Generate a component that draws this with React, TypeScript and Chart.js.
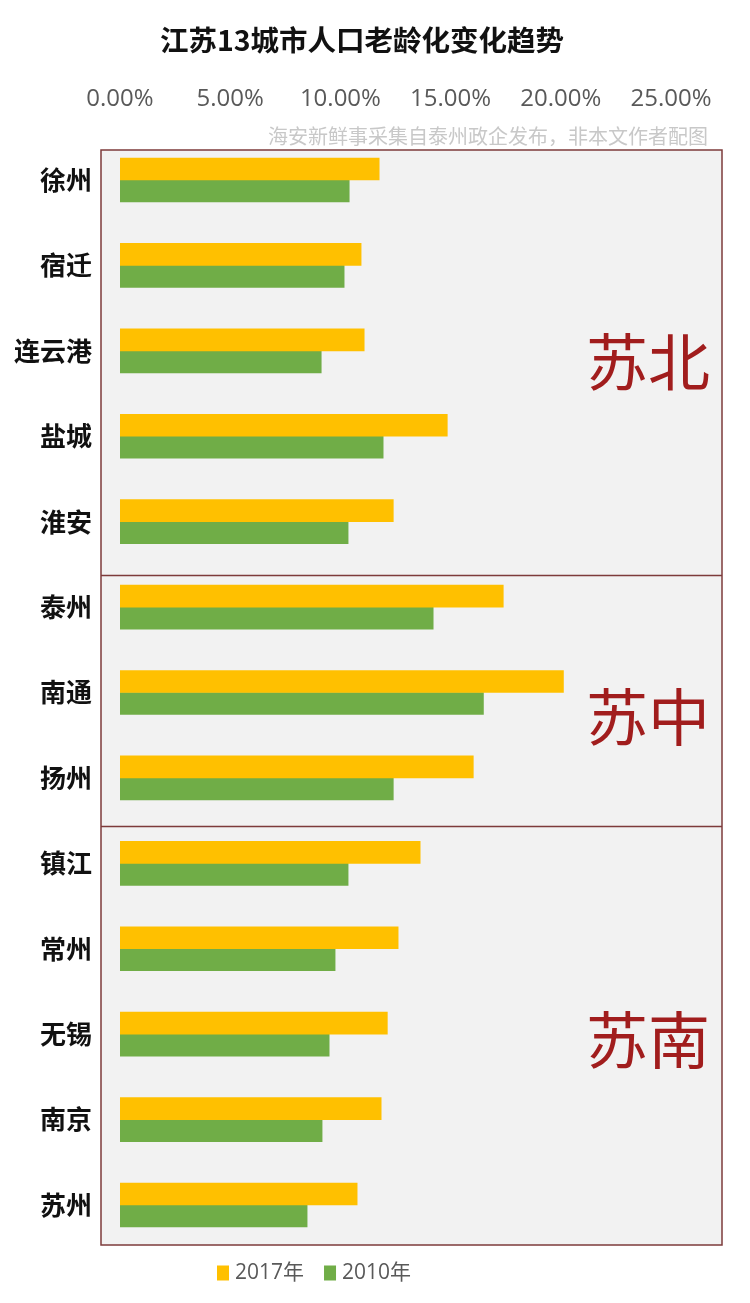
import React, { useEffect, useRef } from "react";
import { Chart, registerables } from "chart.js";

Chart.register(...registerables);

// ---------- data ----------
const titleText = "江苏13城市人口老龄化变化趋势";
const sourceNote = "海安新鲜事采集自泰州政企发布，非本文作者配图";
const cities = ["徐州", "宿迁", "连云港", "盐城", "淮安", "泰州", "南通", "扬州", "镇江", "常州", "无锡", "南京", "苏州"];
const values2017 = [11.76, 10.94, 11.08, 14.85, 12.4, 17.39, 20.12, 16.03, 13.62, 12.62, 12.13, 11.85, 10.76];
const values2010 = [10.4, 10.17, 9.13, 11.94, 10.35, 14.21, 16.49, 12.4, 10.35, 9.76, 9.49, 9.17, 8.49];
const seriesLabels = ["2017年", "2010年"];
const xTickValues = [0, 5, 10, 15, 20, 25];
const regionNames = ["苏北", "苏中", "苏南"];
const regionLastIndex = [4, 7, 12];

// ---------- styling ----------
const COLOR_2017 = "#FFC000";
const COLOR_2010 = "#70AD47";
const BOX_BORDER = "#7d3b3b";
const BOX_FILL = "#f2f2f2";
const REGION_COLOR = "#a11d1d";
const CJK = '"Noto Sans CJK SC", "Noto Sans", sans-serif';
const LATIN = '"Open Sans", "Noto Sans CJK SC", sans-serif';
// divider position inside the gap after each region (fraction of category step)
const dividerFraction = [0.63, 0.57];
const regionLabelShift = [0, 16, 5];

const decorPlugin = {
  id: "decor",
  beforeDatasetsDraw(chart: any) {
    const { ctx, chartArea } = chart;
    const b = boxOf(chartArea);
    ctx.save();
    ctx.fillStyle = BOX_FILL;
    ctx.fillRect(b.left, b.top, b.right - b.left, b.bottom - b.top);
    ctx.restore();
  },
  afterDraw(chart: any) {
    const { ctx, chartArea } = chart;
    const y = chart.scales.y;
    const b = boxOf(chartArea);
    const step = y.getPixelForValue(1) - y.getPixelForValue(0);
    ctx.save();

    // dividers
    const dividers: number[] = [];
    for (let i = 0; i < regionLastIndex.length - 1; i++) {
      dividers.push(y.getPixelForValue(regionLastIndex[i]) + dividerFraction[i] * step);
    }
    ctx.strokeStyle = BOX_BORDER;
    ctx.lineWidth = 1.5;
    dividers.forEach((dy) => {
      ctx.beginPath();
      ctx.moveTo(b.left, dy);
      ctx.lineTo(b.right, dy);
      ctx.stroke();
    });
    // box border
    ctx.strokeRect(b.left, b.top, b.right - b.left, b.bottom - b.top);

    // region labels
    const bounds = [b.top, ...dividers, b.bottom];
    ctx.fillStyle = REGION_COLOR;
    ctx.font = `62px ${CJK}`;
    ctx.textAlign = "center";
    ctx.textBaseline = "middle";
    regionNames.forEach((name, i) => {
      const cy = (bounds[i] + bounds[i + 1]) / 2 + regionLabelShift[i];
      ctx.fillText(name, b.right - 74, cy);
    });

    // title
    ctx.fillStyle = "#111";
    ctx.font = `bold 28.5px ${CJK}`;
    ctx.textAlign = "center";
    ctx.fillText(titleText, 362, 40);

    // source note
    ctx.fillStyle = "#c8c8c8";
    ctx.font = `20px ${CJK}`;
    ctx.textAlign = "right";
    ctx.fillText(sourceNote, 708, 136);

    // legend
    ctx.font = `21px ${LATIN}`;
    ctx.textAlign = "left";
    let lx = 217;
    const ly = 1273;
    chart.data.datasets.forEach((ds: any) => {
      ctx.fillStyle = ds.backgroundColor;
      ctx.fillRect(lx, ly - 7.5, 12, 15);
      lx += 18;
      ctx.fillStyle = "#595959";
      ctx.fillText(ds.label, lx, ly);
      lx += ctx.measureText(ds.label).width + 20;
    });
    ctx.restore();
  },
};

function boxOf(area: any) {
  return {
    left: area.left - 19,
    right: area.right + 51,
    top: area.top + 12.7,
    bottom: area.bottom - 2.7,
  };
}

export default function App() {
  const ref = useRef<HTMLCanvasElement | null>(null);

  useEffect(() => {
    document.body.style.margin = "0";
    const canvas = ref.current;
    if (!canvas) return;
    const chart = new Chart(canvas, {
      type: "bar",
      data: {
        labels: cities,
        datasets: [
          { label: seriesLabels[0], data: values2017, backgroundColor: COLOR_2017, barThickness: 22 },
          { label: seriesLabels[1], data: values2010, backgroundColor: COLOR_2010, barThickness: 22 },
        ],
      },
      options: {
        indexAxis: "y",
        animation: false,
        responsive: false,
        devicePixelRatio: 1,
        layout: { padding: { top: 77.3, right: 79, bottom: 55.3, left: 0 } },
        plugins: {
          legend: { display: false },
          title: { display: false },
          tooltip: { enabled: false },
        },
        scales: {
          x: {
            position: "top",
            min: 0,
            max: 25,
            grid: { display: false, drawTicks: false, tickLength: 0 },
            border: { display: false },
            afterBuildTicks: (scale: any) => {
              scale.ticks = xTickValues.map((v) => ({ value: v }));
            },
            afterFit: (scale: any) => {
              scale.height = 60;
            },
            ticks: {
              padding: 24,
              color: "#595959",
              font: { family: LATIN, size: 24 },
              maxRotation: 0,
              callback: (v: any) => Number(v).toFixed(2) + "%",
            },
          },
          y: {
            grid: { display: false, drawTicks: false, tickLength: 0 },
            border: { display: false },
            afterFit: (scale: any) => {
              scale.width = 120;
            },
            ticks: {
              padding: 28,
              color: "#111",
              font: { family: CJK, size: 26, weight: "bold" },
            },
          },
        },
      },
      plugins: [decorPlugin],
    });
    return () => chart.destroy();
  }, []);

  return (
    <div style={{ width: 750, height: 1303 }}>
      <canvas ref={ref} width={750} height={1303} style={{ display: "block" }} />
    </div>
  );
}
